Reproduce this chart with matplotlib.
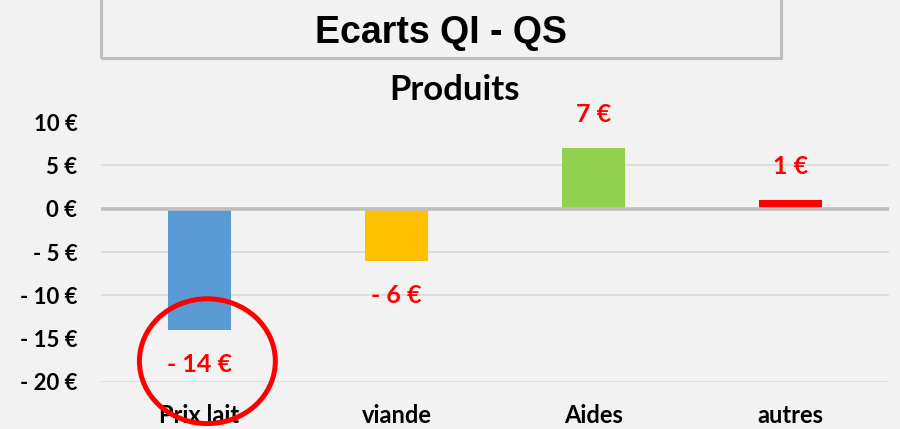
import numpy as np
import matplotlib
matplotlib.use("Agg")
import matplotlib.pyplot as plt
import matplotlib.patches as patches

# DONNÉES
categories = ["Prix lait", "viande", "Aides", "autres"]
ecarts = [-14, -6, 7, 1]
couleurs = ["#5B9BD5", "#FFC000", "#92D050", "#FF0000"]
graduations = [10, 5, 0, -5, -10, -15, -20]
lignes_grille = [5, -5, -10, -20]


def format_euro(v):
    if v < 0:
        return f"- {abs(v)} €"
    return f"{v} €"


fond = "#F2F2F2"
plt.rcParams["font.family"] = ["Lato", "DejaVu Sans"]

fig = plt.figure(figsize=(9, 4.29), dpi=100, facecolor=fond)
ax = fig.add_axes([101 / 900, 1 - 382 / 429, 788 / 900, 260 / 429])
ax.set_facecolor(fond)

x = np.arange(len(categories))

# GRILLE ET LIGNE ZÉRO
for g in lignes_grille:
    ax.axhline(g, color="#D9D9D9", linewidth=1.2, zorder=1)

barres = ax.bar(x, ecarts, width=0.315, color=couleurs, zorder=2)
ax.axhline(0, color="#BFBFBF", linewidth=2.6, zorder=3)

# ÉTIQUETTES DE DONNÉES
for xi, v in zip(x, ecarts):
    decalage = 24 if v > 0 else -25
    ax.annotate(format_euro(v), (xi, v), xytext=(0, decalage),
                textcoords="offset points", ha="center", va="center",
                color="#FF0000", fontsize=18, fontweight="bold",
                annotation_clip=False)

# CERCLE AUTOUR DE PRIX LAIT
cercle = patches.Ellipse((0.04, -17.6), 0.69, 14.4, fill=False,
                         edgecolor="#FF0000", linewidth=3.6,
                         clip_on=False, zorder=5)
ax.add_patch(cercle)

ax.set_xlim(-0.5, 3.5)
ax.set_ylim(-20, 10)
ax.set_yticks(graduations)
ax.set_yticklabels([format_euro(g) for g in graduations],
                   fontsize=16, fontweight="bold")
ax.set_xticks(x)
ax.set_xticklabels(categories, fontsize=17, fontweight="bold")
ax.tick_params(axis="both", length=0)
ax.tick_params(axis="y", pad=17)
ax.tick_params(axis="x", pad=16)
for s in ax.spines.values():
    s.set_visible(False)

# TITRES
fig.text(455 / 900, 1 - 90 / 429, "Produits", ha="center", va="center",
         fontsize=25, fontweight="bold")
cadre = patches.Rectangle((101 / 900, 1 - 58 / 429), 680 / 900, 0.3,
                          transform=fig.transFigure, fill=False,
                          edgecolor="#BFBFBF", linewidth=2.2, clip_on=False)
fig.patches.append(cadre)
fig.text(441 / 900, 1 - 33 / 429, "Ecarts QI - QS", ha="center",
         va="center", fontsize=27, fontweight="bold",
         family="Liberation Sans")

fig.savefig("out.png", dpi=100, facecolor=fond)
